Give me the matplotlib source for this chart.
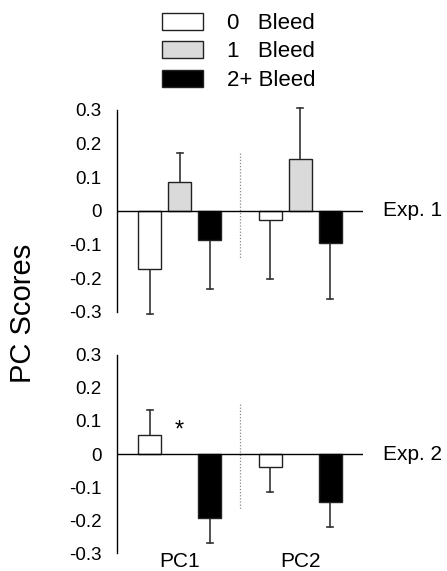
import matplotlib.pyplot as plt
from matplotlib.patches import Patch

plt.rcParams['font.family'] = ['Liberation Sans', 'DejaVu Sans']

# data
componentes = ['PC1', 'PC2']
grupos = ['0   Bleed', '1   Bleed', '2+ Bleed']

exp1_medias = {
    '0': [-0.173, -0.027],
    '1': [0.087, 0.155],
    '2+': [-0.087, -0.095],
}
exp1_errores = {
    '0': [0.133, 0.176],
    '1': [0.084, 0.152],
    '2+': [0.146, 0.165],
}

exp2_medias = {
    '0': [0.058, -0.039],
    '2+': [-0.193, -0.145],
}
exp2_errores = {
    '0': [0.075, 0.076],
    '2+': [0.077, 0.075],
}

colores = {'0': 'white', '1': '#dadada', '2+': 'black'}
desplaz = {'0': -1.0, '1': 0.0, '2+': 1.0}
centros = [0.0, 4.0]
ancho = 0.77


def dibujar_panel(ax, medias, errores, etiqueta, punteada):
    for g in medias:
        xs = [c + desplaz[g] for c in centros]
        ax.bar(xs, medias[g], width=ancho, color=colores[g],
               edgecolor='#222222', linewidth=1.0, zorder=3)
        for x, m, e in zip(xs, medias[g], errores[g]):
            fin = m + e if m >= 0 else m - e
            ax.plot([x, x], [m, fin], color='#333333', lw=1.2,
                    zorder=2, clip_on=False)
            ax.plot([x - 0.1, x + 0.1], [fin, fin], color='#333333',
                    lw=1.2, zorder=2, clip_on=False)
    ax.axhline(0, color='black', lw=1.0, zorder=4)
    ax.plot([2, 2], punteada, color='#888888', lw=0.9, ls=(0, (1, 1.5)))
    ax.set_xlim(-2.08, 6.08)
    ax.set_ylim(-0.3, 0.3)
    ax.set_yticks([-0.3, -0.2, -0.1, 0, 0.1, 0.2, 0.3])
    ax.set_yticklabels(['-0.3', '-0.2', '-0.1', '0', '0.1', '0.2', '0.3'])
    ax.tick_params(axis='y', length=0, pad=11, labelsize=13.5)
    ax.set_xticks([])
    for s in ['top', 'right', 'bottom']:
        ax.spines[s].set_visible(False)
    ax.spines['left'].set_linewidth(1.0)
    ax.text(6.75, 0, etiqueta, fontsize=15, va='center', ha='left',
            clip_on=False)


fig = plt.figure(figsize=(4.47, 5.71), dpi=100)
ax1 = fig.add_axes([0.2617, 0.4536, 0.5503, 0.3538])
ax2 = fig.add_axes([0.2617, 0.0315, 0.5503, 0.3468])

dibujar_panel(ax1, exp1_medias, exp1_errores, 'Exp. 1', [0.173, -0.143])
dibujar_panel(ax2, exp2_medias, exp2_errores, 'Exp. 2', [0.15, -0.17])

ax2.text(0.0, 0.07, '*', fontsize=17, ha='center', va='center')
for c, nombre in zip(centros, componentes):
    ax2.text(c, -0.325, nombre, fontsize=15, ha='center', va='center',
             clip_on=False)

fig.text(0.052, 0.452, 'PC Scores', fontsize=21, rotation=90,
         ha='center', va='center')

manejadores = [Patch(facecolor=colores[k], edgecolor='#222222', lw=1.0)
               for k in ['0', '1', '2+']]
fig.legend(manejadores, grupos, loc='upper left',
           bbox_to_anchor=(0.318, 1.013), frameon=False, fontsize=16,
           handlelength=1.85, handleheight=0.81, handletextpad=1.08,
           labelspacing=0.33)

fig.savefig('out.png', dpi=100)
